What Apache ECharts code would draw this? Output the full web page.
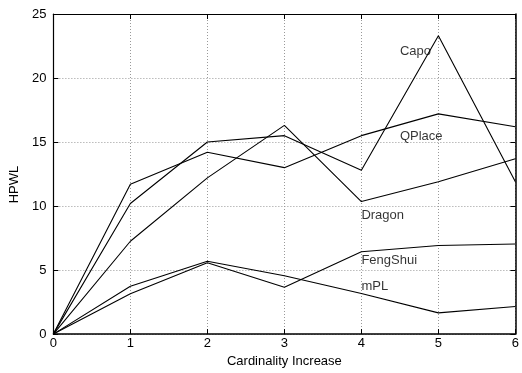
<!DOCTYPE html>
<html>
<head>
<meta charset="utf-8">
<script src="https://cdn.jsdelivr.net/npm/echarts@6/dist/echarts.min.js"></script>
<style>
html,body{margin:0;padding:0;background:#fff;}
#c{width:522px;height:373px;}
</style>
</head>
<body>
<div id="c"></div>
<script>
var xValues = [0, 1, 2, 3, 4, 5, 6];
var capo = [0, 10.2, 15.0, 15.5, 12.8, 23.3, 11.9];
var qplace = [0, 11.7, 14.2, 13.0, 15.5, 17.2, 16.2];
var dragon = [0, 7.25, 12.2, 16.3, 10.35, 11.9, 13.7];
var fengshui = [0, 3.15, 5.58, 3.66, 6.43, 6.92, 7.04];
var mpl = [0, 3.74, 5.69, 4.56, 3.17, 1.66, 2.15];
var seriesNames = ['Capo', 'QPlace', 'Dragon', 'FengShui', 'mPL'];
var labelX = [4.5, 4.5, 4.0, 4.0, 4.0];
var labelY = [22.1, 15.45, 9.25, 5.78, 3.75];
var xTicks = [0, 1, 2, 3, 4, 5, 6];
var yTicks = [0, 5, 10, 15, 20, 25];

var FONT = 'Liberation Sans, Arial, Helvetica, sans-serif';
var allData = [capo, qplace, dragon, fengshui, mpl];

function pairs(arr) {
  return xValues.map(function (x, i) { return [x, arr[i]]; });
}

var series = allData.map(function (arr, i) {
  return {
    name: seriesNames[i],
    type: 'line',
    data: pairs(arr),
    symbol: 'none',
    lineStyle: { color: '#000', width: 1.1 },
    itemStyle: { color: '#000' },
    z: 3,
    animation: false
  };
});

series.push({
  type: 'scatter',
  symbolSize: 0,
  data: seriesNames.map(function (n, i) { return { name: n, value: [labelX[i], labelY[i]] }; }),
  label: {
    show: true,
    position: 'right',
    distance: 0,
    formatter: function (p) { return p.name; },
    color: '#000',
    fontFamily: FONT,
    fontSize: 13
  },
  silent: true,
  animation: false,
  z: 4
});

var gridLine = { show: true, lineStyle: { color: '#999', type: [1, 2], width: 1 } };

var chart = echarts.init(document.getElementById('c'), null, { renderer: 'canvas' });
chart.setOption({
  backgroundColor: '#fff',
  animation: false,
  grid: { left: 53, top: 14, width: 463, height: 325, containLabel: false },
  xAxis: [{
    type: 'value',
    min: xTicks[0], max: xTicks[xTicks.length - 1], interval: 1,
    name: 'Cardinality Increase',
    nameLocation: 'middle',
    nameGap: 17,
    nameTextStyle: { color: '#000', fontFamily: FONT, fontSize: 13 },
    axisLine: { show: true, onZero: false, lineStyle: { color: '#000', width: 1.5 } },
    axisTick: { show: true, inside: true, length: 5, lineStyle: { color: '#000' } },
    axisLabel: { color: '#000', fontFamily: FONT, fontSize: 13, margin: 3 },
    splitLine: gridLine
  }, {
    type: 'value',
    position: 'top',
    min: xTicks[0], max: xTicks[xTicks.length - 1], interval: 1,
    axisLine: { show: true, onZero: false, lineStyle: { color: '#000', width: 1.2 } },
    axisTick: { show: true, inside: true, length: 5, lineStyle: { color: '#000' } },
    axisLabel: { show: false },
    splitLine: { show: false }
  }],
  yAxis: [{
    type: 'value',
    min: yTicks[0], max: yTicks[yTicks.length - 1], interval: 5,
    name: 'HPWL',
    nameLocation: 'middle',
    nameGap: 30,
    nameRotate: 90,
    nameTextStyle: { color: '#000', fontFamily: FONT, fontSize: 13, padding: [0, 21, 0, 0] },
    axisLine: { show: true, onZero: false, lineStyle: { color: '#000', width: 1.2 } },
    axisTick: { show: true, inside: true, length: 5, lineStyle: { color: '#000' } },
    axisLabel: { color: '#000', fontFamily: FONT, fontSize: 13, margin: 7 },
    splitLine: gridLine
  }, {
    type: 'value',
    position: 'right',
    min: yTicks[0], max: yTicks[yTicks.length - 1], interval: 5,
    axisLine: { show: true, onZero: false, lineStyle: { color: '#000', width: 1.5 } },
    axisTick: { show: true, inside: true, length: 5, lineStyle: { color: '#000' } },
    axisLabel: { show: false },
    splitLine: { show: false }
  }],
  series: series
});
</script>
</body>
</html>
